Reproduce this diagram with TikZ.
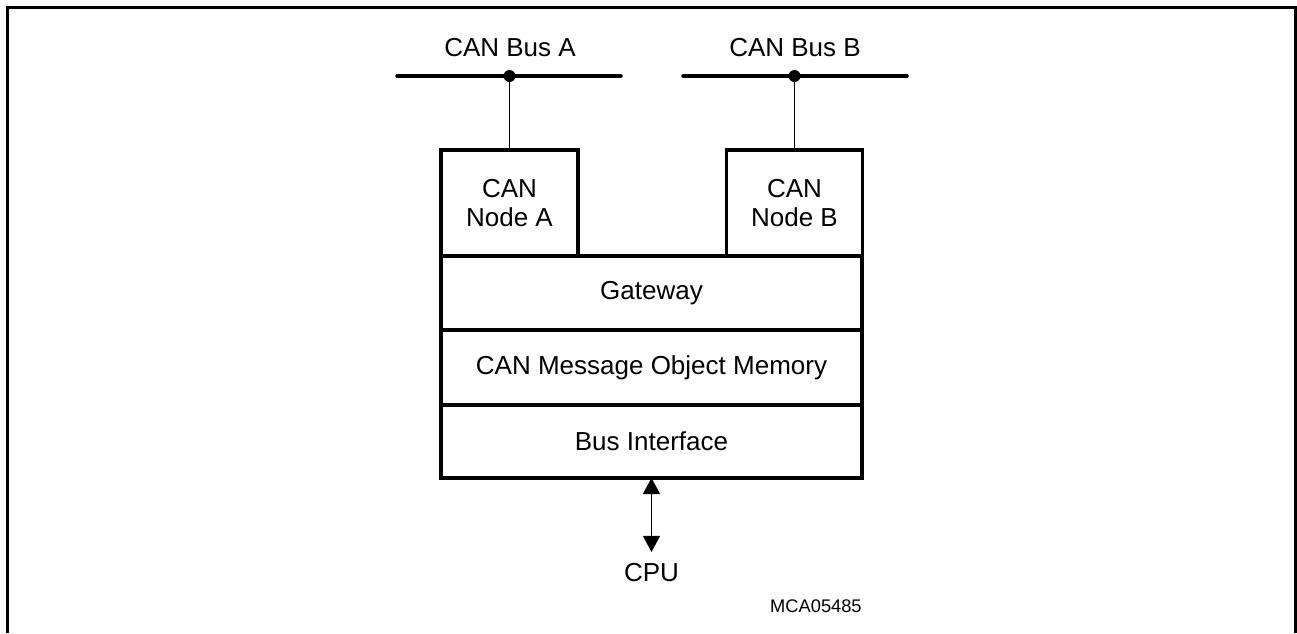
\documentclass[tikz,border=0pt]{standalone}
\usepackage{fontspec}
\setmainfont{Liberation Sans}
\usetikzlibrary{arrows.meta,positioning}

\begin{document}
\begin{tikzpicture}[x=0.02cm,y=-0.02cm,
    >={Triangle[length=0.32cm,width=0.34cm]},
    block/.style={draw=black,line width=2pt,fill=white,inner sep=0pt,outer sep=0pt,
        align=center,font=\fontsize{14.8}{16.5}\selectfont},
    busline/.style={line width=2pt,line cap=round},
    tap/.style={line width=0.6pt},
    buslabel/.style={font=\fontsize{14.8}{16.5}\selectfont,inner sep=0pt}]
\useasboundingbox (0,0) rectangle (1297,633);
% frame
\draw[line width=2pt] (7.5,633) -- (7.5,7.5) -- (1296,7.5) -- (1296,633);
% the two buses
\coordinate (busAl) at (397,76);
\coordinate (busAr) at (621,76);
\coordinate (busBl) at (683,76);
\coordinate (busBr) at (907,76);
\coordinate (tapA) at (509.5,76);
\coordinate (tapB) at (794.5,76);
\draw[busline] (busAl) -- (busAr);
\draw[busline] (busBl) -- (busBr);
\fill (tapA) circle (0.12cm);
\fill (tapB) circle (0.12cm);
\node[buslabel] (labA) at (510,48) {CAN Bus A};
\node[buslabel] (labB) at (795,48) {CAN Bus B};
% module
\node[block,minimum width=2.74cm,minimum height=2.12cm] (nodeA) at (509.5,203) {CAN\\Node A};
\node[block,minimum width=2.72cm,minimum height=2.12cm] (nodeB) at (794.5,203) {CAN\\Node B};
\node[block,minimum width=8.42cm,minimum height=1.48cm] (gw) at (651.5,293) {Gateway};
\node[block,minimum width=8.42cm,minimum height=1.5cm] (mem) at (651.5,367.5) {CAN Message Object Memory};
\node[block,minimum width=8.42cm,minimum height=1.46cm] (bif) at (651.5,441.5) {Bus Interface};
\draw[tap] (tapA) -- (nodeA.north);
\draw[tap] (tapB) -- (nodeB.north);
% cpu side
\node[buslabel] (cpu) at (651.5,573) {CPU};
\draw[tap,<->,shorten >=0.23cm] (bif.south) -- (cpu.north);
\node[font=\fontsize{10.4}{12}\selectfont,inner sep=0pt,anchor=east] (code) at (862,606) {MCA05485};
\end{tikzpicture}
\end{document}
